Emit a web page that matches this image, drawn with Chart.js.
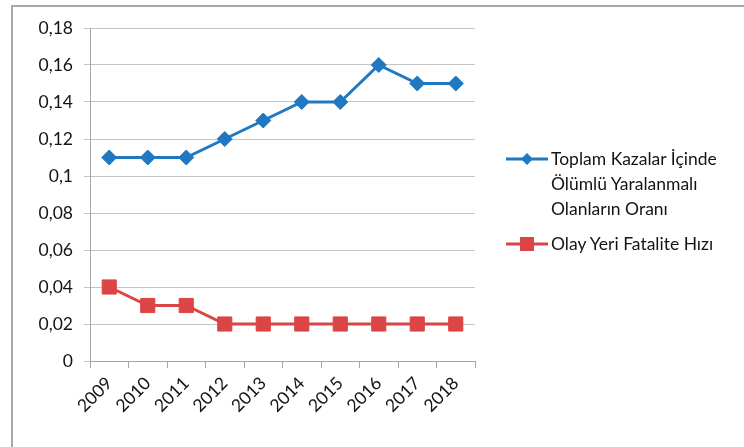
<!DOCTYPE html>
<html>
<head>
<meta charset="utf-8">
<script src="https://cdn.jsdelivr.net/npm/chart.js@4.4.1/dist/chart.umd.min.js"></script>
<style>
    body { margin: 0; background: #fff; }
    #wrap { position: relative; width: 744px; height: 447px; overflow: hidden; }
    #frame { position: absolute; left: 11px; top: 5px; right: -10px; bottom: -10px;
             border-top: 2px solid #a8a8a8; border-left: 2px solid #a8a8a8; }
    #legend { position: absolute; left: 506px; top: 146px; font-family: Lato, sans-serif;
              font-size: 17.5px; color: #141414; }
    .item { display: flex; align-items: flex-start; margin-bottom: 10px; }
    .item svg { flex: none; margin-top: 4px; margin-right: 3px; }
    .item .txt { line-height: 25px; }
</style>
</head>
<body>
<div id="wrap">
    <canvas id="kazaChart" width="744" height="447"></canvas>
    <div id="frame"></div>
    <div id="legend"></div>
</div>
<script>
// Yıllar ve oranlar
const years = ['2009', '2010', '2011', '2012', '2013', '2014', '2015', '2016', '2017', '2018'];
const olumluOrani = [0.11, 0.11, 0.11, 0.12, 0.13, 0.14, 0.14, 0.16, 0.15, 0.15];
const fataliteHizi = [0.04, 0.03, 0.03, 0.02, 0.02, 0.02, 0.02, 0.02, 0.02, 0.02];
const seriesLines = [
    ['Toplam Kazalar İçinde', 'Ölümlü Yaralanmalı', 'Olanların Oranı'],
    ['Olay Yeri Fatalite Hızı']
];
const yTicks = [0, 0.02, 0.04, 0.06, 0.08, 0.1, 0.12, 0.14, 0.16, 0.18];

const blue = '#1f78c0';
const red = '#dc4545';
const fontFamily = 'Lato, sans-serif';

function formatTick(v) {
    return String(Math.round(v * 100) / 100).replace('.', ',');
}

const ctx = document.getElementById('kazaChart').getContext('2d');
const chart = new Chart(ctx, {
    type: 'line',
    data: {
        labels: years,
        datasets: [
            {
                label: seriesLines[0].join(' '),
                data: olumluOrani,
                borderColor: blue,
                backgroundColor: blue,
                borderWidth: 3,
                pointStyle: 'rectRot',
                pointRadius: 7.5,
                pointBorderWidth: 1,
                tension: 0
            },
            {
                label: seriesLines[1].join(' '),
                data: fataliteHizi,
                borderColor: red,
                backgroundColor: red,
                borderWidth: 3,
                pointStyle: 'rect',
                pointRadius: 10,
                pointBorderWidth: 1,
                tension: 0
            }
        ]
    },
    options: {
        responsive: false,
        animation: false,
        layout: { padding: { top: 28, right: 269, left: 0, bottom: 0 } },
        plugins: {
            legend: { display: false },
            tooltip: { enabled: false }
        },
        scales: {
            x: {
                offset: true,
                grid: {
                    offset: true,
                    drawOnChartArea: false,
                    tickLength: 7,
                    color: '#a6a6a6'
                },
                border: { color: '#a6a6a6', width: 1 },
                ticks: {
                    minRotation: 45,
                    maxRotation: 45,
                    padding: 5,
                    color: '#141414',
                    font: { family: fontFamily, size: 17.5 }
                },
                afterFit: scale => { scale.height = 86; }
            },
            y: {
                min: 0,
                max: 0.18,
                afterBuildTicks: scale => { scale.ticks = yTicks.map(v => ({ value: v })); },
                grid: { color: '#c4c4c4', tickLength: 6, lineWidth: 1 },
                border: { color: '#a6a6a6', width: 1 },
                ticks: {
                    padding: 11,
                    color: '#141414',
                    font: { family: fontFamily, size: 17.5 },
                    callback: v => formatTick(v)
                },
                afterFit: scale => { scale.width = 90; }
            }
        }
    }
});

// Sağ taraftaki açıklama
function legendIcon(ds) {
    const c = ds.borderColor;
    const mark = ds.pointStyle === 'rect'
        ? `<rect x="14" y="2" width="14" height="14" fill="${c}"/>`
        : `<polygon points="21,3 27,9 21,15 15,9" fill="${c}"/>`;
    return `<svg width="42" height="18"><line x1="0" y1="9" x2="42" y2="9" stroke="${c}" stroke-width="3"/>${mark}</svg>`;
}

document.getElementById('legend').innerHTML = chart.data.datasets.map((ds, i) =>
    `<div class="item">${legendIcon(ds)}<div class="txt">${seriesLines[i].join('<br>')}</div></div>`
).join('');
</script>
</body>
</html>
